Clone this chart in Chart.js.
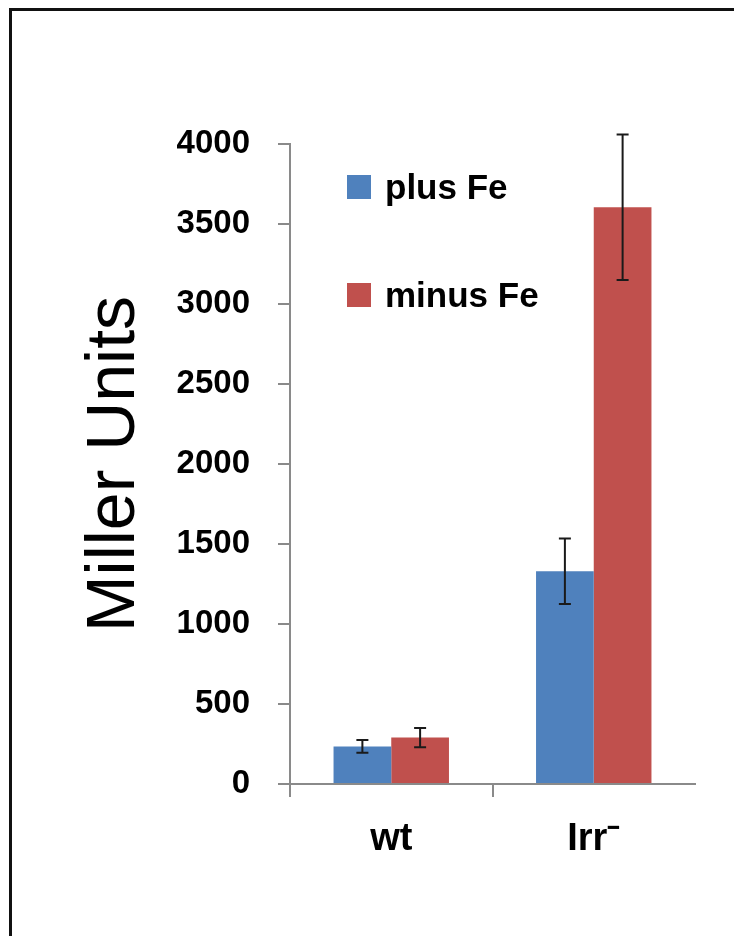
<!DOCTYPE html>
<html>
<head>
<meta charset="utf-8">
<script src="https://cdn.jsdelivr.net/npm/chart.js@4/dist/chart.umd.min.js"></script>
<style>
  html, body { margin: 0; padding: 0; background: #fff; overflow: hidden; }
  #wrap { position: relative; width: 734px; height: 936px; }
  #frame { position: absolute; left: 9px; top: 8px; width: 800px; height: 1000px;
           border-top: 3px solid #111; border-left: 3px solid #111; box-sizing: border-box; }
  canvas { position: absolute; left: 0; top: 0; }
</style>
</head>
<body>
<div id="wrap">
  <div id="frame"></div>
  <canvas id="c" width="734" height="936"></canvas>
</div>
<script>
// Beta-galactosidase activity (Miller Units), wild type vs Irr mutant
const categories = ['wt', 'Irr\u207B'];
const plusFe = [235, 1330];
const plusFeErr = [40, 205];
const minusFe = [290, 3605];
const minusFeErr = [60, 455];
const yTicks = [0, 500, 1000, 1500, 2000, 2500, 3000, 3500, 4000];

const BLUE = '#4F81BD';
const RED = '#C0504D';
const AXIS = '#8a8a8a';

const errorBars = {
  id: 'errorBars',
  afterDatasetsDraw(chart) {
    const { ctx } = chart;
    const y = chart.scales.y;
    ctx.save();
    ctx.strokeStyle = '#1a1a1a';
    ctx.lineWidth = 2;
    chart.data.datasets.forEach((ds, i) => {
      const meta = chart.getDatasetMeta(i);
      meta.data.forEach((bar, j) => {
        const v = ds.data[j], e = ds.errors[j];
        const top = y.getPixelForValue(v + e);
        const bot = y.getPixelForValue(v - e);
        const x = bar.x, w = 6;
        ctx.beginPath();
        ctx.moveTo(x, top); ctx.lineTo(x, bot);
        ctx.moveTo(x - w, top); ctx.lineTo(x + w, top);
        ctx.moveTo(x - w, bot); ctx.lineTo(x + w, bot);
        ctx.stroke();
      });
    });
    ctx.restore();
  }
};

const innerLegend = {
  id: 'innerLegend',
  afterDraw(chart) {
    const { ctx, chartArea } = chart;
    ctx.save();
    ctx.font = 'bold 35px "Liberation Sans", Arial, sans-serif';
    ctx.textBaseline = 'alphabetic';
    ctx.textAlign = 'left';
    chart.data.datasets.forEach((ds, i) => {
      const sx = chartArea.left + 57;
      const sy = chartArea.top + 31 + i * 108;
      ctx.fillStyle = ds.backgroundColor;
      ctx.fillRect(sx, sy, 24, 24);
      ctx.fillStyle = '#000';
      ctx.fillText(ds.label, sx + 38, sy + 24);
    });
    ctx.restore();
  }
};

new Chart(document.getElementById('c'), {
  type: 'bar',
  data: {
    labels: categories,
    datasets: [
      { label: 'plus Fe', data: plusFe, errors: plusFeErr, backgroundColor: BLUE },
      { label: 'minus Fe', data: minusFe, errors: minusFeErr, backgroundColor: RED }
    ]
  },
  options: {
    responsive: false,
    animation: false,
    layout: { padding: { left: 0, top: 144, right: 39, bottom: 0 } },
    plugins: { legend: { display: false }, tooltip: { enabled: false } },
    datasets: { bar: { categoryPercentage: 0.57, barPercentage: 1.0 } },
    scales: {
      x: {
        offset: true,
        afterFit(s) { s.height = 152; },
        grid: { display: true, drawOnChartArea: false, drawTicks: true, tickLength: 13,
                // the closing boundary mark at the right end is left out
                color: (c) => (c.tick ? AXIS : 'rgba(0,0,0,0)'),
                lineWidth: 2 },
        border: { display: true, color: AXIS, width: 2 },
        ticks: { color: '#000', padding: 20,
                 font: { family: '"Liberation Sans", Arial, sans-serif', size: 38, weight: 'bold' } }
      },
      y: {
        min: 0, max: 4000,
        afterFit(s) { s.width = 290; },
        afterBuildTicks(s) { s.ticks = yTicks.map(v => ({ value: v })); },
        grid: { display: true, drawOnChartArea: false, drawTicks: true, tickLength: 12,
                color: AXIS, lineWidth: 2 },
        border: { display: true, color: AXIS, width: 2 },
        ticks: { color: '#000', padding: 28,
                 callback: (v) => String(v),
                 font: { family: '"Liberation Sans", Arial, sans-serif', size: 33, weight: 'bold' } },
        title: {
          display: true, text: 'Miller Units', color: '#000',
          padding: { top: 74, bottom: 0 },
          font: { family: '"Liberation Sans", Arial, sans-serif', size: 68, weight: 'normal' }
        }
      }
    }
  },
  plugins: [errorBars, innerLegend]
});
</script>
</body>
</html>
